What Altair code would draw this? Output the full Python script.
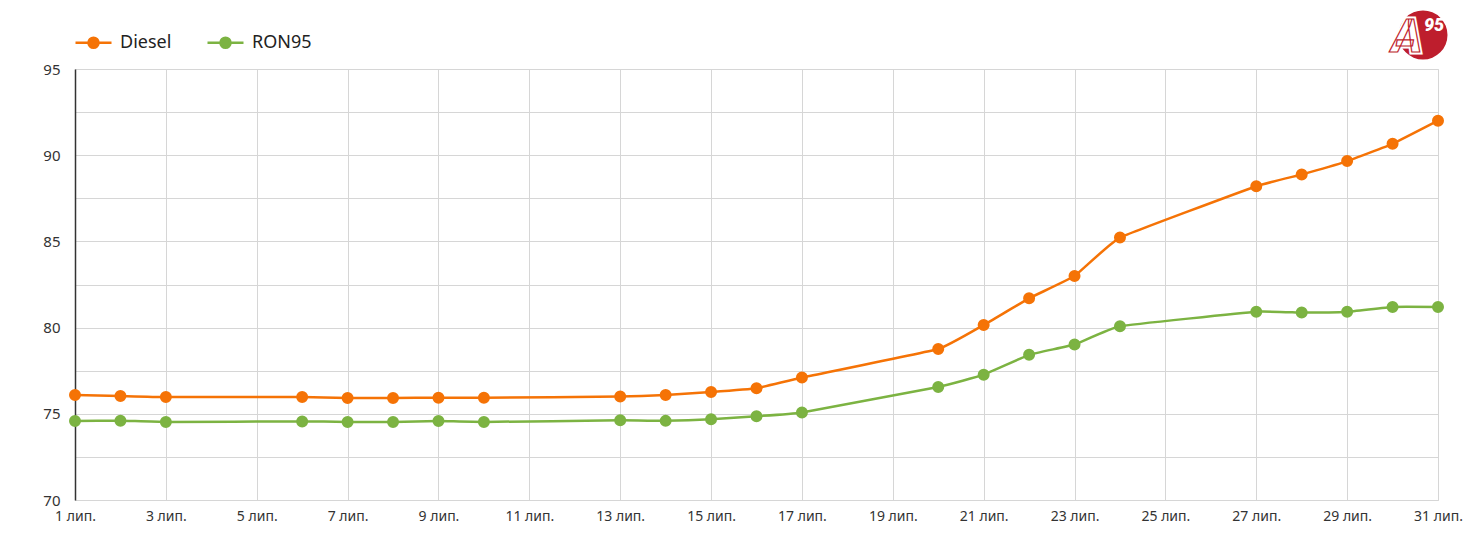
import altair as alt
import pandas as pd

days_diesel = [1, 2, 3, 6, 7, 8, 9, 10, 13, 14, 15, 16, 17, 20, 21, 22, 23, 24, 27, 28, 29, 30, 31]
diesel = [76.09, 76.03, 75.97, 75.97, 75.92, 75.92, 75.93, 75.93, 76.0, 76.09, 76.26, 76.48, 77.1,
          78.76, 80.15, 81.7, 82.99, 85.22, 88.2, 88.88, 89.66, 90.66, 92.0]
days_ron = [1, 2, 3, 6, 7, 8, 9, 10, 13, 14, 15, 16, 17, 20, 21, 22, 23, 24, 27, 28, 29, 30, 31]
ron95 = [74.58, 74.6, 74.53, 74.56, 74.53, 74.53, 74.58, 74.53, 74.62, 74.59, 74.68, 74.86, 75.08,
         76.56, 77.27, 78.42, 79.02, 80.08, 80.92, 80.87, 80.92, 81.2, 81.2]
series = ["Diesel", "RON95"]
colors = ["#F57306", "#7CB342"]
x_ticks = list(range(1, 32, 2))
y_ticks = [70 + 2.5 * i for i in range(11)]

df = pd.concat([
    pd.DataFrame({"day": days_diesel, "price": diesel, "fuel": series[0]}),
    pd.DataFrame({"day": days_ron, "price": ron95, "fuel": series[1]}),
])

FONT = "Noto Sans"
sym_path = "M-1,0H1M0.28,0A0.28,0.28,0,1,1,-0.28,0A0.28,0.28,0,1,1,0.28,0Z"

x = alt.X("day:Q", scale=alt.Scale(domain=[1, 31], nice=False),
          axis=alt.Axis(values=x_ticks, labelExpr="datum.value + ' лип.'", title=None,
                        ticks=False, domain=False, grid=True, gridColor="#d6d6d6",
                        labelFont=FONT, labelFontSize=14, labelColor="#333333",
                        labelPadding=9, labelFlush=False))
y = alt.Y("price:Q", scale=alt.Scale(domain=[70, 95], nice=False, zero=False),
          axis=alt.Axis(values=y_ticks, labelExpr="datum.value % 5 == 0 ? datum.value : ''",
                        title=None, ticks=False, domain=True, domainColor="#333333",
                        domainWidth=1.5, grid=True, gridColor="#d6d6d6",
                        labelFont=FONT, labelFontSize=15, labelColor="#333333",
                        labelPadding=15))

scale_c = alt.Scale(domain=series, range=colors)
legend = alt.Legend(title=None, orient="none", legendX=-1, legendY=-46, direction="horizontal",
                    symbolType=sym_path, symbolSize=1296, symbolStrokeWidth=2.5,
                    labelFont=FONT, labelFontSize=18, labelColor="#222222",
                    columnPadding=30, labelOffset=7, padding=0)

lines = alt.Chart(df).mark_line(strokeWidth=2.5, interpolate="cardinal", tension=0.7).encode(
    x=x, y=y, stroke=alt.Stroke("fuel:N", scale=scale_c, legend=legend))
points = alt.Chart(df).mark_point(filled=True, size=100, opacity=1).encode(
    x=x, y=y, fill=alt.Fill("fuel:N", scale=scale_c, legend=legend),
    stroke=alt.Stroke("fuel:N", scale=scale_c, legend=legend))

RED = "#BE1E2D"
logo_df = pd.DataFrame({"t": ["A"], "s": ["95"]})
logo_circle = alt.Chart(logo_df).mark_point(filled=True, size=2400, color=RED, opacity=1).encode(
    x=alt.value(1348), y=alt.value(-34))
logo_a_halo = alt.Chart(logo_df).mark_text(font="Roboto", fontSize=46, fontWeight=900, fontStyle="italic",
                                           color="white", stroke="white", strokeWidth=5,
                                           baseline="alphabetic").encode(
    x=alt.value(1332), y=alt.value(-17), text="t:N")
logo_a = alt.Chart(logo_df).mark_text(font="Roboto", fontSize=46, fontWeight=900, fontStyle="italic",
                                      color="white", stroke=RED, strokeWidth=1.2,
                                      baseline="alphabetic").encode(
    x=alt.value(1332), y=alt.value(-17), text="t:N")
logo_s = alt.Chart(logo_df).mark_text(font="Roboto", fontSize=18, fontWeight=900, fontStyle="italic",
                                      color="white", baseline="middle").encode(
    x=alt.value(1359), y=alt.value(-43), text="s:N")

chart = alt.layer(lines, points, logo_circle, logo_a_halo, logo_a, logo_s).properties(
    width=1363, height=431,
    autosize=alt.AutoSizeParams(type="none"),
    padding={"left": 67, "top": 61, "right": 27, "bottom": 35},
).configure_view(stroke=None).configure(background="white")

chart.save("out.html", embed_options={"renderer": "svg", "actions": False})
